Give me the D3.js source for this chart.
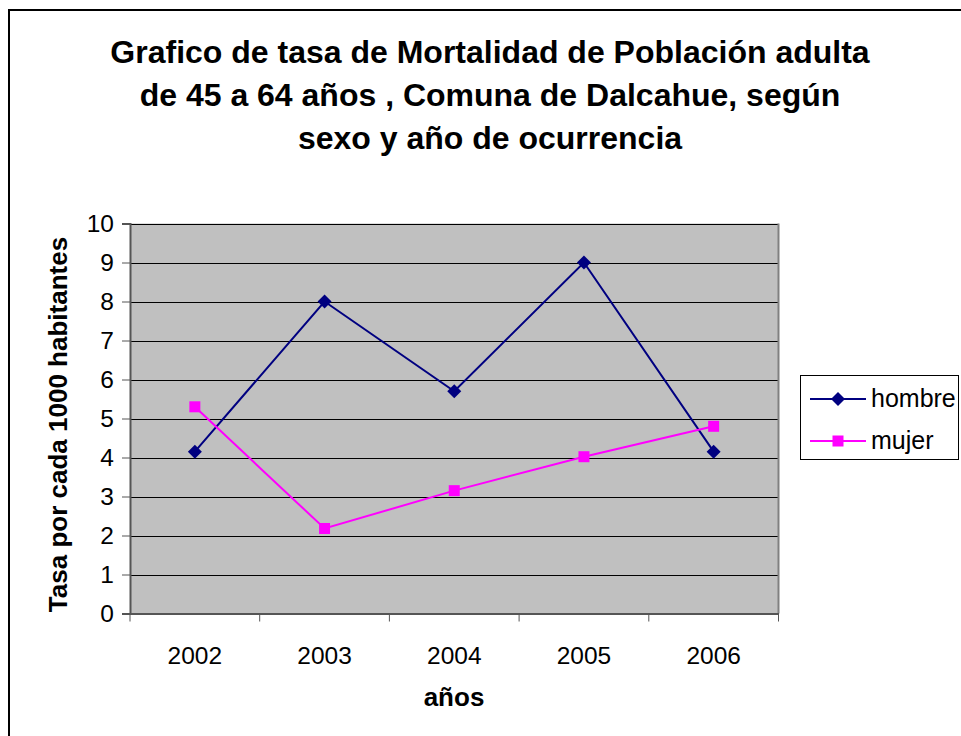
<!DOCTYPE html>
<html><head><meta charset="utf-8">
<script src="https://cdn.jsdelivr.net/npm/d3@7"></script>
<style>body{margin:0;background:#fff;}svg{display:block;font-family:Arial,"Liberation Sans",sans-serif;}</style>
</head><body>
<svg id="c" width="961" height="736"></svg>
<script>
const categories = ["2002","2003","2004","2005","2006"];
const hombre = [4.15, 8.0, 5.7, 9.0, 4.15];
const mujer = [5.3, 2.18, 3.15, 4.02, 4.8];
const yTicks = [0,1,2,3,4,5,6,7,8,9,10];
const titleLines = ["Grafico de tasa de Mortalidad de Población adulta","de 45 a 64 años , Comuna de Dalcahue, según","sexo y año de ocurrencia"];

const FONT = "Arial, 'Liberation Sans', sans-serif";
const svg = d3.select("#c");
// outer chart border
svg.append("rect").attr("x",9).attr("y",10).attr("width",1000).attr("height",800)
  .attr("fill","#fff").attr("stroke","#000").attr("stroke-width",2);

const L=130, R=778.5, T=223.5, B=613.5;
const x = d3.scaleBand().domain(categories).range([L,R]);
const y = d3.scaleLinear().domain([0,10]).range([B,T]);

svg.append("rect").attr("x",L).attr("y",T).attr("width",R-L).attr("height",B-T).attr("fill","#C0C0C0");

// gridlines
svg.append("g").selectAll("line").data(yTicks.filter(d=>d>0)).join("line")
  .attr("x1",L).attr("x2",R).attr("y1",d=>Math.round(y(d))+0.5).attr("y2",d=>Math.round(y(d))+0.5)
  .attr("stroke","#000").attr("stroke-width",1);
// right border of plot
svg.append("line").attr("x1",R).attr("x2",R).attr("y1",T).attr("y2",B).attr("stroke","#808080").attr("stroke-width",2);

// y axis
const ya = svg.append("g").attr("transform",`translate(${L},0)`)
  .call(d3.axisLeft(y).tickValues(yTicks).tickSize(8).tickPadding(8));
ya.select(".domain").attr("stroke","#555").attr("stroke-width",2);
ya.selectAll(".tick line").attr("stroke","#555");
ya.selectAll("text").attr("font-size",24.5).attr("fill","#000").attr("font-family",FONT);

// x axis
const xa = svg.append("g").attr("transform",`translate(0,${B})`)
  .call(d3.axisBottom(x).tickSize(0).tickPadding(33));
xa.select(".domain").attr("stroke","#555").attr("stroke-width",2);
xa.selectAll("text").attr("font-size",24.5).attr("fill","#000").attr("font-family",FONT);
// tick marks at band boundaries
const bounds = categories.map(c=>x(c)).concat([R]);
svg.append("g").selectAll("line").data(bounds).join("line")
  .attr("x1",d=>d).attr("x2",d=>d).attr("y1",B).attr("y2",B+8).attr("stroke","#555").attr("stroke-width",1);

const cx = c => x(c)+x.bandwidth()/2;
const line = d3.line().x((d,i)=>cx(categories[i])).y(d=>y(d));

svg.append("path").datum(hombre).attr("d",line).attr("fill","none").attr("stroke","#000080").attr("stroke-width",2);
svg.append("path").datum(mujer).attr("d",line).attr("fill","none").attr("stroke","#FF00FF").attr("stroke-width",2);

function diamondPath(s){ return `M0,${-s}L${s},0L0,${s}L${-s},0Z`; }
svg.append("g").selectAll("path").data(hombre).join("path")
  .attr("d",diamondPath(7)).attr("transform",(d,i)=>`translate(${cx(categories[i])},${y(d)})`)
  .attr("fill","#000080");
svg.append("g").selectAll("rect").data(mujer).join("rect")
  .attr("x",(d,i)=>cx(categories[i])-5.5).attr("y",d=>y(d)-5.5).attr("width",11).attr("height",11)
  .attr("fill","#FF00FF");

// title
svg.append("g").selectAll("text").data(titleLines).join("text")
  .attr("x",490).attr("y",(d,i)=>62.5+i*43.3).attr("text-anchor","middle")
  .attr("font-size",32).attr("font-weight","bold").text(d=>d);

// axis titles
svg.append("text").attr("x",454).attr("y",706).attr("text-anchor","middle")
  .attr("font-size",26).attr("font-weight","bold").text("años");
svg.append("text").attr("transform",`translate(67,${(T+B)/2+6}) rotate(-90)`).attr("text-anchor","middle")
  .attr("font-size",26).attr("font-weight","bold").text("Tasa por cada 1000 habitantes");

// legend
const lg = svg.append("g");
lg.append("rect").attr("x",800.5).attr("y",375.5).attr("width",158).attr("height",84)
  .attr("fill","#fff").attr("stroke","#000").attr("stroke-width",1);
const legendItems = [{name:"hombre",color:"#000080",yy:399},{name:"mujer",color:"#FF00FF",yy:441}];
legendItems.forEach((it,i)=>{
  lg.append("line").attr("x1",810).attr("x2",866).attr("y1",it.yy).attr("y2",it.yy).attr("stroke",it.color).attr("stroke-width",2);
  if(i===0) lg.append("path").attr("d",diamondPath(7)).attr("transform",`translate(838,${it.yy})`).attr("fill",it.color);
  else lg.append("rect").attr("x",832.5).attr("y",it.yy-5.5).attr("width",11).attr("height",11).attr("fill",it.color);
  lg.append("text").attr("x",871).attr("y",it.yy+8).attr("font-size",25).text(it.name);
});
</script>
</body></html>
